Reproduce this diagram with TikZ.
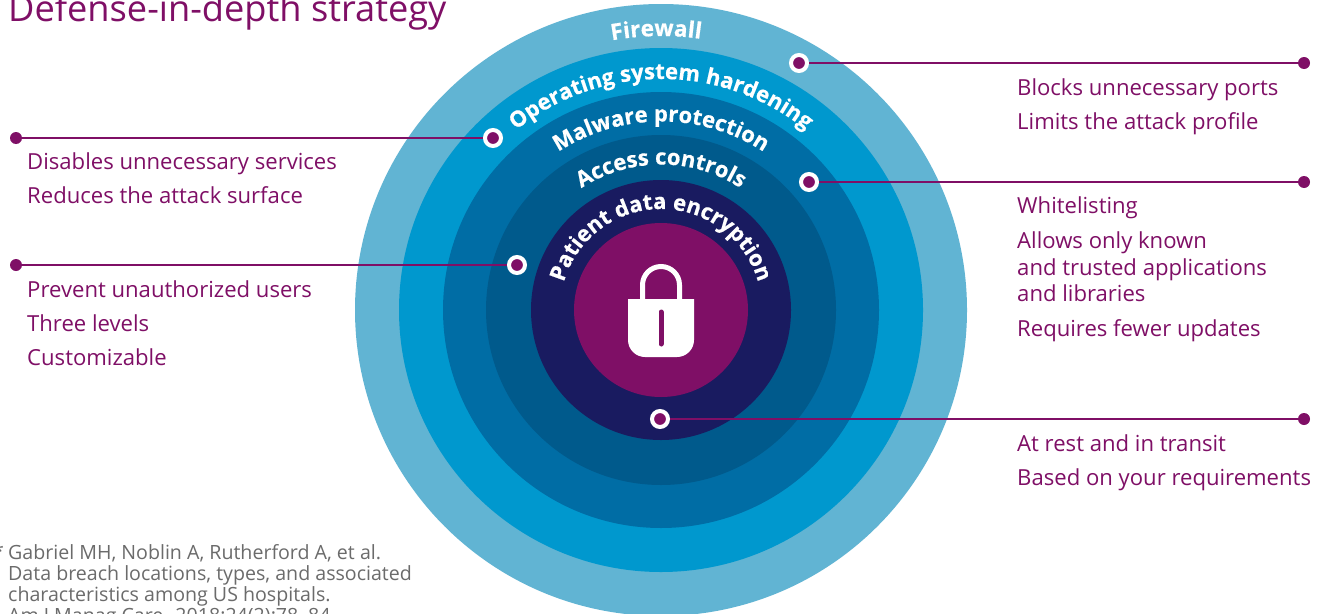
\documentclass[tikz,border=0pt]{standalone}
\usepackage{fontspec}
\setmainfont{Open Sans}
\newfontfamily\arcfont[UprightFont=*,BoldFont=* Bold,BoldFeatures={FakeBold=0.5}]{Open Sans}
\usetikzlibrary{decorations.text}
\definecolor{pur}{HTML}{7F0F66}
\definecolor{ringa}{HTML}{61B4D3}
\definecolor{ringb}{HTML}{0098CE}
\definecolor{ringc}{HTML}{006DA5}
\definecolor{ringd}{HTML}{005A8C}
\definecolor{ringe}{HTML}{191B60}
\definecolor{greytxt}{HTML}{6B6B6B}
\tikzset{
  x=1pt,y=-1pt,
  ring/.style={circle,minimum size=#1*2pt,inner sep=0pt,outer sep=0pt},
  callout/.style={circle,fill=pur,draw=white,line width=4pt,minimum size=16pt,inner sep=0pt},
  enddot/.style={circle,fill=pur,minimum size=12pt,inner sep=0pt},
  wire/.style={draw=pur,line width=2.4pt},
  body/.style={anchor=base west,text=pur,font=\fontsize{22.1}{24}\selectfont,inner sep=0pt},
  foot/.style={anchor=base west,text=greytxt,font=\fontsize{19.6}{21}\selectfont,inner sep=0pt},
}
\newcommand{\arctext}[4]{%
  \path[decorate,decoration={text along path,text align=center,
    text={|\arcfont\fontsize{#3}{#3}\bfseries\color{white}|#2}}]
    (661,310) ++(180+#4:#1pt) arc[start angle=180+#4,end angle=#4,radius=#1pt];}
\begin{document}
\begin{tikzpicture}
\useasboundingbox (0,0) rectangle (1324,613);
\clip (0,0) rectangle (1324,613);
\fill[white] (0,0) rectangle (1324,613);
\node[anchor=base west,text=pur,font=\fontsize{36.2}{40}\selectfont,inner sep=0pt] (title) at (8,21) {Defense-in-depth strategy};
\node[ring=306,fill=ringa] (r1) at (661,310) {};
\node[ring=262,fill=ringb] (r2) at (661,310) {};
\node[ring=218,fill=ringc] (r3) at (661,310) {};
\node[ring=175,fill=ringd] (r4) at (661,310) {};
\node[ring=130,fill=ringe] (r5) at (661,310) {};
\node[ring=87,fill=pur] (r6) at (661,310) {};
\arctext{274}{Firewall}{22.5}{1}
\arctext{231}{Operating system hardening}{22}{0}
\arctext{188.5}{Malware protection}{22}{0}
\arctext{145.5}{Access controls}{22}{0}
\arctext{101}{Patient data encryption}{22}{0}
% lock
\draw[white,line width=5pt] (642.5,302) -- (642.5,285) arc[start angle=180,end angle=0,radius=18.5pt] -- (679.5,302);
\fill[white] (628,299) -- (694,299) -- (694,340) arc[start angle=0,end angle=-90,radius=17pt] -- (645,357) arc[start angle=270,end angle=180,radius=17pt] -- cycle;
\draw[pur,line width=5pt,line cap=round] (661,312) -- (661,344);
% connectors
\node[callout] (c1) at (799,63) {};
\node[enddot] (e1) at (1304,63) {};
\node[callout] (c2) at (493,138) {};
\node[enddot] (e2) at (16,138) {};
\node[callout] (c3) at (809,182) {};
\node[enddot] (e3) at (1304,182) {};
\node[callout] (c4) at (517,265) {};
\node[enddot] (e4) at (16,265) {};
\node[callout] (c5) at (660,419) {};
\node[enddot] (e5) at (1304,419) {};
\foreach \i in {1,...,5} \draw[wire] (c\i) -- (e\i);
% texts
\node[body] (t1) at (1017,95.5) {Blocks unnecessary ports};
\node[body] (t2) at (1017,129.5) {Limits the attack profile};
\node[body] (t3) at (27,169.5) {Disables unnecessary services};
\node[body] (t4) at (27,203.5) {Reduces the attack surface};
\node[body] (t5) at (1017,213.5) {Whitelisting};
\node[body] (t6) at (1017,248.5) {Allows only known};
\node[body] (t7) at (1017,275.5) {and trusted applications};
\node[body] (t8) at (1017,301.5) {and libraries};
\node[body] (t9) at (1017,336.5) {Requires fewer updates};
\node[body] (t10) at (27,297.5) {Prevent unauthorized users};
\node[body] (t11) at (27,331.5) {Three levels};
\node[body] (t12) at (27,365.5) {Customizable};
\node[body] (t13) at (1017,451.5) {At rest and in transit};
\node[body] (t14) at (1017,485.5) {Based on your requirements};
\node[foot] (f0) at (-7,558) {*};
\node[foot] (f1) at (8,559) {Gabriel MH, Noblin A, Rutherford A, et al.};
\node[foot] (f2) at (8,580) {Data breach locations, types, and associated};
\node[foot] (f3) at (8,601) {characteristics among US hospitals.};
\node[foot] (f4) at (8,622) {Am J Manag Care. 2018;24(2):78–84.};
\end{tikzpicture}
\end{document}
